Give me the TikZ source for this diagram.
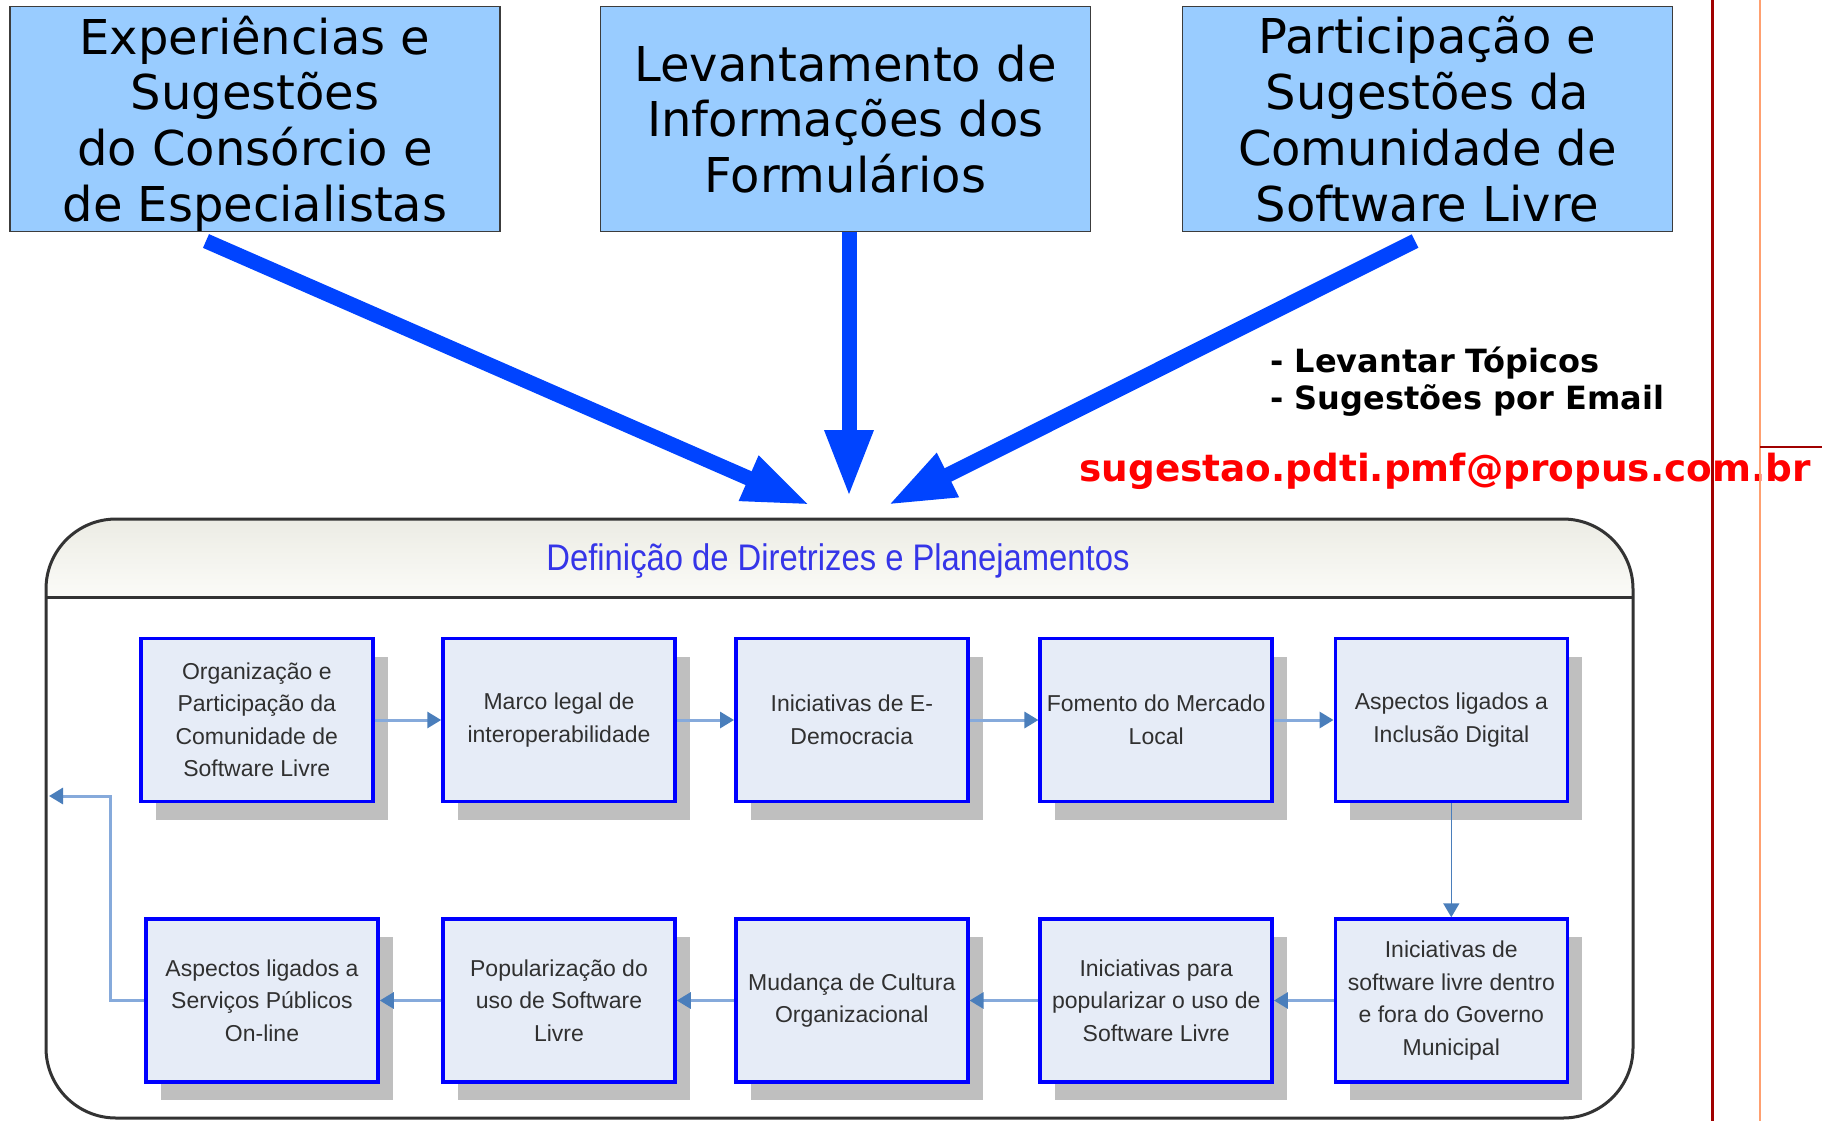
\documentclass[tikz,border=0pt]{standalone}
\usepackage{fontspec}
\usepackage{graphicx}
\usetikzlibrary{arrows.meta,shadows}
\newfontfamily\dvfont{DejaVu Sans}
\newfontfamily\lsfont{Liberation Sans}
\definecolor{topfill}{HTML}{99CCFF}
\definecolor{topdraw}{HTML}{3C3C3C}
\definecolor{bigblue}{HTML}{0044FF}
\definecolor{boxfill}{HTML}{E6ECF7}
\definecolor{boxblue}{HTML}{0000FF}
\definecolor{shadowgray}{HTML}{BFBFBF}
\definecolor{connline}{HTML}{86AADB}
\definecolor{connhead}{HTML}{4A7EBB}
\definecolor{titleblue}{HTML}{3535E8}
\definecolor{darkred}{HTML}{A00000}
\definecolor{lightorange}{HTML}{FFA070}
\definecolor{textgray}{HTML}{303030}
\definecolor{paneldraw}{HTML}{333333}
\definecolor{titletop}{HTML}{ECECE4}
\definecolor{titlebot}{HTML}{FBFBF8}
\definecolor{mailred}{HTML}{FF0000}
\tikzset{
  topbox/.style={draw=topdraw, line width=0.75pt, fill=topfill, minimum width=245pt,
    minimum height=112.5pt, align=center, inner sep=0pt,
    font=\dvfont\fontsize{24}{27.9}\selectfont},
  stagebox/.style={draw=boxblue, line width=1.75pt, fill=boxfill, minimum width=116pt,
    minimum height=81.5pt, align=center, inner sep=0pt, text=textgray,
    font=\lsfont\fontsize{11.5}{16.25}\selectfont,
    drop shadow={shadow xshift=7.5pt, shadow yshift=-9pt, fill=shadowgray, opacity=1}},
  bigarrow/.style={draw=bigblue, line width=7.5pt, -{Triangle[length=33.5pt,width=22.5pt]}},
  conn/.style={draw=connline, line width=1.5pt, -{Triangle[length=7pt,width=8pt,color=connhead]}},
  connthin/.style={draw=connhead, line width=0.8pt, -{Triangle[length=7pt,width=8pt,color=connhead]}},
  panel/.style={draw=paneldraw, line width=1.5pt, rounded corners=35pt},
  sidetext/.style={anchor=base west, inner sep=0pt, font=\dvfont\bfseries\fontsize{16}{18.5}\selectfont},
}
\begin{document}
\begin{tikzpicture}[x=0.5pt,y=-0.5pt]
\useasboundingbox (0,0) rectangle (1822,1121);
\fill[white] (0,0) rectangle (1822,1121);

% top boxes
\node[topbox] (src1) at (255,119) {Experiências e\\Sugestões\\do Consórcio e\\de Es\smash{p}ecialistas};
\node[topbox] (src2) at (845.5,119) {Levantamento de\\Informações dos\\Formulários};
\node[topbox] (src3) at (1427.5,119) {Participação e\\Sugestões da\\Comunidade de\\Software Livre};

% side texts
\node[sidetext] (lev) at (1270,372) {- Levantar Tópicos};
\node[sidetext] (sug) at (1270,409) {- Sugestões por Email};
\node[anchor=base west, inner sep=0pt, text=mailred,
      font=\dvfont\bfseries\fontsize{18.7}{22}\selectfont] (mail) at (1079,481) {sugestao.pdti.pmf@propus.com.br};

% panel
\begin{scope}
  \clip[rounded corners=35pt] (46,519) rectangle (1633,1118);
  \shade[top color=titletop, bottom color=titlebot] (46,519) rectangle (1633,597);
\end{scope}
\draw[panel] (46,519) rectangle (1633,1118);
\draw[paneldraw, line width=1.5pt] (46,597) -- (1633,597);
\node[inner sep=0pt, text=titleblue, font=\lsfont\fontsize{18.5}{22}\selectfont] (title) at (838,561)
  {\scalebox{0.886}[1]{Definição de Diretrizes e Planejamentos}};

% big arrows
\coordinate (s1) at (206,241);
\coordinate (t1) at (810,505);
\coordinate (s2) at (849,232);
\coordinate (t2) at (849,497);
\coordinate (s3) at (1415,241);
\coordinate (t3) at (888,505);
\draw[bigarrow] (s1) -- (t1);
\draw[bigarrow] (s2) -- (t2);
\draw[bigarrow] (s3) -- (t3);

% stage boxes
\node[stagebox] (b1) at (256.8,720) {Organização e\\Participação da\\Comunidade de\\Software Livre};
\node[stagebox] (b2) at (559,720) {Marco legal de\\interoperabilidade};
\node[stagebox] (b3) at (851.8,720) {Iniciativas de E-\\Democracia};
\node[stagebox] (b4) at (1156.2,720) {Fomento do Mercado\\Local};
\node[stagebox] (b5) at (1451.3,720) {Aspectos ligados a\\Inclusão Digital};
\node[stagebox] (c1) at (262,1000.5) {Aspectos ligados a\\Serviços Públicos\\On-line};
\node[stagebox] (c2) at (559,1000.5) {Popularização do\\uso de Software\\Livre};
\node[stagebox] (c3) at (851.8,1000.5) {Mudança de Cultura\\Organizacional};
\node[stagebox] (c4) at (1156.2,1000.5) {Iniciativas para\\popularizar o uso de\\Software Livre};
\node[stagebox] (c5) at (1451.3,1000.5) {Iniciativas de\\software livre dentro\\e fora do Governo\\Municipal};

% connectors
\draw[conn] (b1) -- (b2);
\draw[conn] (b2) -- (b3);
\draw[conn] (b3) -- (b4);
\draw[conn] (b4) -- (b5);
\draw[connthin] (b5) -- (c5);
\draw[conn] (c5) -- (c4);
\draw[conn] (c4) -- (c3);
\draw[conn] (c3) -- (c2);
\draw[conn] (c2) -- (c1);
\coordinate (loopend) at (49,796);
\draw[conn] (c1.west) -| (110,796) -- (loopend);

% right side lines
\draw[darkred, line width=1.5pt] (1712,0) -- (1712,1121);
\draw[lightorange, line width=1pt] (1760,0) -- (1760,1121);
\draw[darkred, line width=1.2pt] (1760,447) -- (1822,447);
\end{tikzpicture}
\end{document}
